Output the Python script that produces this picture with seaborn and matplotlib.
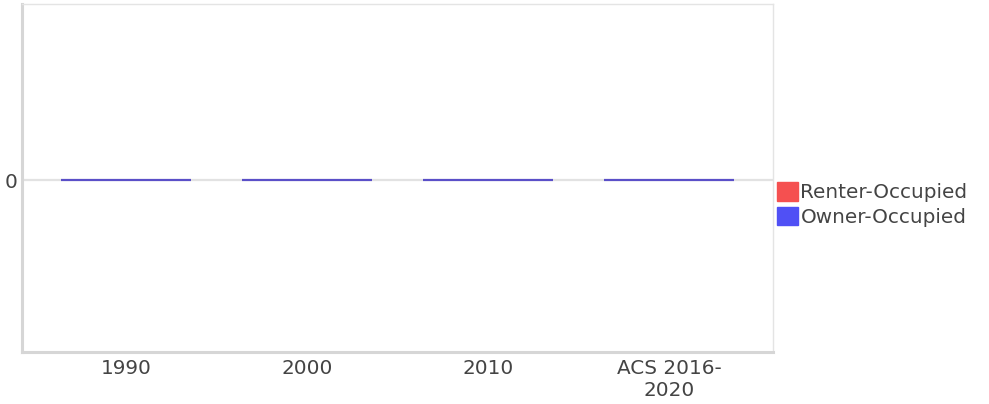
import matplotlib
matplotlib.use("Agg")
import matplotlib.pyplot as plt
import matplotlib.patches as mpatches
import seaborn as sns
import pandas as pd

years = ["1990", "2000", "2010", "ACS 2016-\n2020"]
owner_occupied = [0, 0, 0, 0]
renter_occupied = [0, 0, 0, 0]

owner_color = "#5050f5"
renter_color = "#f55050"

sns.set_theme(style="white")
plt.rcParams['font.family'] = ['DejaVu Sans']

df = pd.DataFrame({"year": years, "owner": owner_occupied, "renter": renter_occupied})

fig = plt.figure(figsize=(9.89, 4.04), dpi=100)
ax = fig.add_axes([22 / 989, 1 - 352 / 404, 751 / 989, 348 / 404])

ax.axhline(0, color="#e2e2e2", lw=1.6, zorder=0)

sns.barplot(data=df, x="year", y="owner", color=owner_color, width=0.72,
            edgecolor="#4b4fd8", linewidth=1.5, ax=ax, zorder=2)
sns.barplot(data=df, x="year", y="renter", color=renter_color, width=0.72,
            bottom=df["owner"], edgecolor="#5a4fc8", linewidth=1.5, ax=ax, zorder=3)

ax.set_xlim(-0.575, 3.575)
ax.set_ylim(-0.988, 1.012)
ax.set_yticks([0])
ax.set_yticklabels(["0"])
ax.set_xlabel("")
ax.set_ylabel("")
ax.tick_params(axis="both", labelsize=14.4, colors="#444444", length=0)
ax.tick_params(axis="x", pad=5)
ax.tick_params(axis="y", pad=3.2)
for lbl in ax.get_xticklabels():
    lbl.set_linespacing(1.2)

for side in ["top", "right"]:
    ax.spines[side].set_color("#e4e4e4")
    ax.spines[side].set_linewidth(1)
for side in ["left", "bottom"]:
    ax.spines[side].set_color("#d6d6d6")
    ax.spines[side].set_linewidth(2.2)

handles = [mpatches.Patch(color=renter_color, label="Renter-Occupied"),
           mpatches.Patch(color=owner_color, label="Owner-Occupied")]
leg = ax.legend(handles=handles, loc="upper left", bbox_to_anchor=(1.0, 0.5),
                frameon=False, fontsize=14.4, handlelength=1.05, handleheight=1.05,
                handletextpad=0.12, labelspacing=0.24, borderpad=0,
                borderaxespad=0.2)
for t in leg.get_texts():
    t.set_color("#444444")

fig.savefig("out.png", dpi=100)
